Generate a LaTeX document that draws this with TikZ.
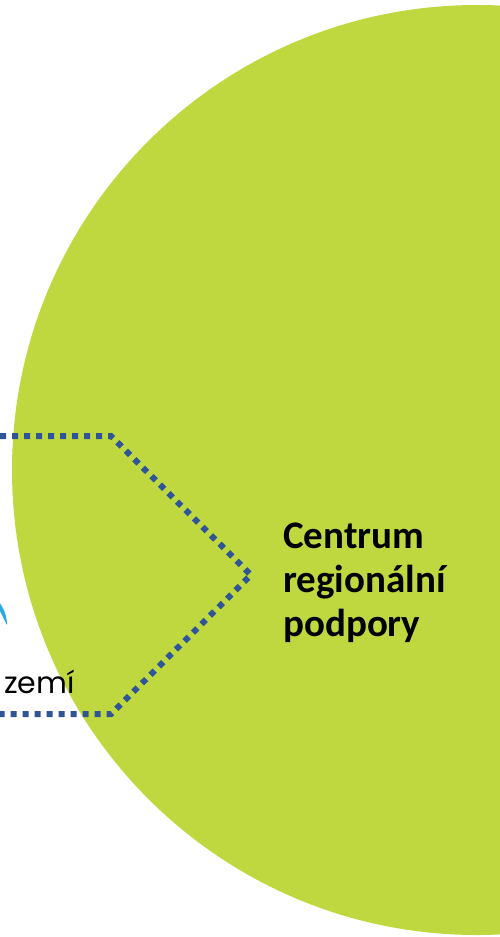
\documentclass[tikz,border=0pt]{standalone}
\usepackage{fontspec}
\setmainfont{Carlito}
\newfontfamily\geofont{Poppins}
\definecolor{lime}{RGB}{192,216,64}
\definecolor{dotblue}{RGB}{47,85,151}
\definecolor{skyc}{RGB}{41,171,226}
\begin{document}
\begin{tikzpicture}[x=1pt,y=-1pt,
  dotline/.style={draw=dotblue, line width=6pt, dash pattern=on 6pt off 6pt, line cap=butt, line join=miter},
  title/.style={font=\fontsize{39}{44}\selectfont\bfseries, align=left, anchor=base west, inner sep=0pt},
  label/.style={font=\geofont\fontsize{30}{32}\selectfont, anchor=base west, inner sep=0pt}]
\useasboundingbox (0,0) rectangle (500,937);
\begin{scope}
\clip (0,0) rectangle (500,937);
\fill[lime] (477,470) circle [radius=465];
\fill[skyc] (7,625) arc[start angle=0, end angle=-90, radius=37] -- ++(0,-10) arc[start angle=-90, end angle=0, radius=27] -- cycle;
\coordinate (a) at (0,436);
\coordinate (b) at (111,436);
\coordinate (c) at (251,575);
\coordinate (d) at (111,714);
\coordinate (e) at (0,714);
\draw[dotline] (a) -- (b) -- (c) -- (d) -- (e);
\end{scope}
\node[label] (zemi) at (4,693) {zemí};
\node[title] (crp) at (283,636) {Centrum\\regionální\\podpory};
\end{tikzpicture}
\end{document}
